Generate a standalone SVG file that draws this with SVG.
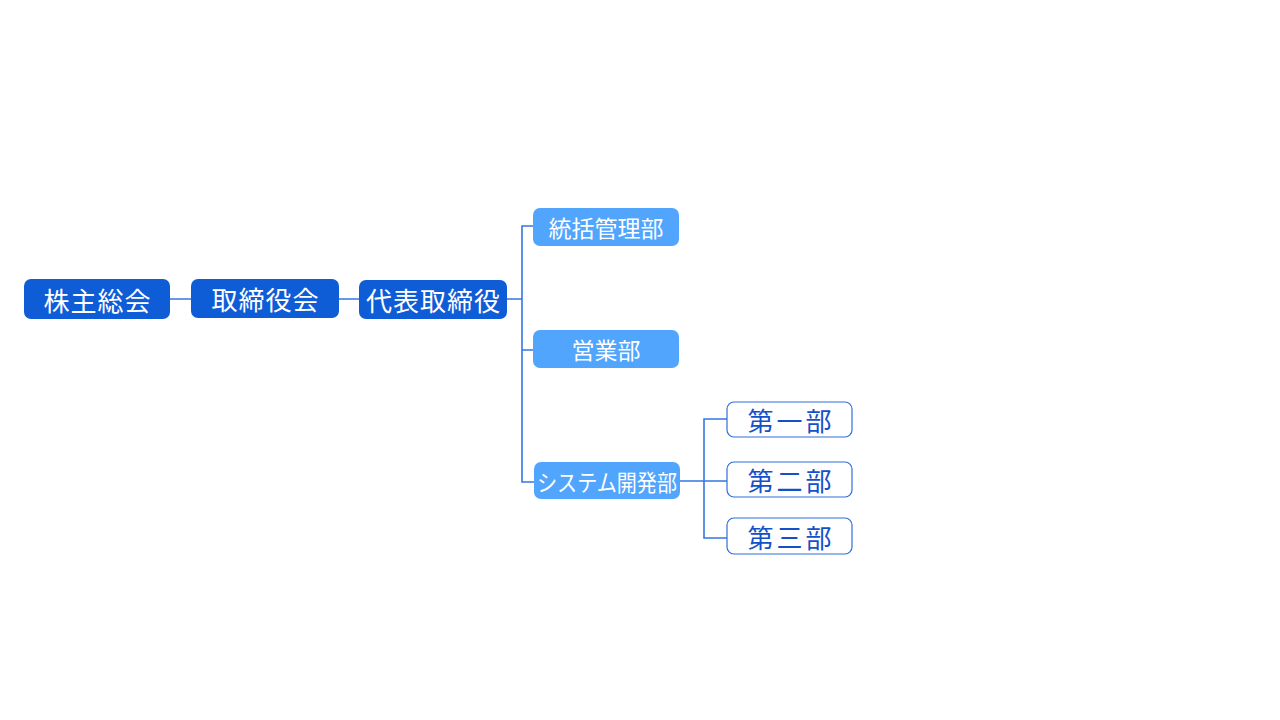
<svg xmlns="http://www.w3.org/2000/svg" width="1280" height="720" viewBox="0 0 1280 720">
<style>
.t{font-family:"Noto Sans CJK JP","Noto Sans",sans-serif;text-anchor:middle;dominant-baseline:central;font-weight:400}
.l1 rect{fill:#0f5cd7}
.l1 text{fill:#fff;font-size:26px;letter-spacing:1px}
.l2 rect{fill:#51a5fd}
.l2 text{fill:#fff;font-size:23px}
.l3 rect{fill:#fff;stroke:#2f6fde;stroke-width:1.2}
.l3 text{fill:#1450c8;font-size:26px;letter-spacing:3px}
.c path{fill:none;stroke:#3577e0;stroke-width:1.6}
</style>
<rect width="1280" height="720" fill="#fff"/>
<g class="c">
<path d="M170 299H191M339 299H359M507 299H522"/>
<path d="M533 226H522V482H534M522 350H533"/>
<path d="M680 481H727M727 419H704V538H727"/>
</g>
<g id="n1" class="l1"><rect x="24" y="279" width="146" height="40" rx="7"/><text class="t" x="97.5" y="299">株主総会</text></g>
<g id="n2" class="l1"><rect x="191" y="279" width="148" height="39" rx="7"/><text class="t" x="265.5" y="298.5">取締役会</text></g>
<g id="n3" class="l1"><rect x="359" y="280" width="148" height="39" rx="7"/><text class="t" x="433.5" y="299.5">代表取締役</text></g>
<g id="n4" class="l2"><rect x="533" y="208" width="146" height="38" rx="7"/><text class="t" x="606" y="227">統括管理部</text></g>
<g id="n5" class="l2"><rect x="533" y="330" width="146" height="38" rx="7"/><text class="t" x="606" y="349">営業部</text></g>
<g id="n6" class="l2"><rect x="534" y="462" width="146" height="37" rx="7"/><text class="t" x="607" y="480.5" textLength="140" lengthAdjust="spacingAndGlyphs">システム開発部</text></g>
<g id="n7" class="l3"><rect x="727" y="402" width="125" height="35" rx="7"/><text class="t" x="791" y="419.5">第一部</text></g>
<g id="n8" class="l3"><rect x="727" y="462" width="125" height="35" rx="7"/><text class="t" x="791" y="479.5">第二部</text></g>
<g id="n9" class="l3"><rect x="727" y="518" width="125" height="36" rx="7"/><text class="t" x="791" y="536">第三部</text></g>
</svg>
